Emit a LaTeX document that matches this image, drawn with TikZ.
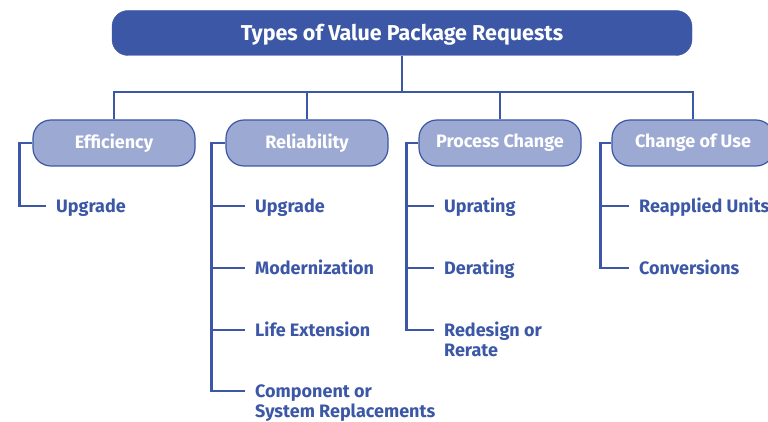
\documentclass[tikz,border=0pt]{standalone}
\usepackage{fontspec}
\setmainfont{Fira Sans}
\definecolor{dkblue}{RGB}{59,87,166}
\definecolor{ltblue}{RGB}{155,169,211}
\begin{document}
\begin{tikzpicture}[x=1pt,y=-1pt,
  head/.style={draw=dkblue, fill=dkblue, rounded corners=16pt, minimum width=580pt, minimum height=45pt, text=white, font=\bfseries\fontsize{21.5}{24}\selectfont},
  cat/.style={draw=dkblue, line width=1.2pt, fill=ltblue, rounded corners=18pt, minimum width=162pt, minimum height=46pt, text=white, font=\bfseries\fontsize{18}{20}\selectfont},
  item/.style={anchor=base west, inner sep=0pt, align=left, text=dkblue, font=\bfseries\fontsize{18}{20}\selectfont},
  link/.style={draw=dkblue, line width=2.7pt}]
  \useasboundingbox (0,0) rectangle (768,422);
  \node[head, text depth=1pt] (top) at (402,33) {Types of Value Package Requests};
  \node[cat] (eff) at (114,143) {Efficiency};
  \node[cat] (rel) at (307,143) {Reliability};
  \node[cat] (proc) at (500,143) {Process Change};
  \node[cat] (use) at (693,143) {Change of Use};
  \coordinate (bus) at (402,92);
  \draw[link] (top) -- (bus);
  \foreach \n in {eff,rel,proc,use}
    \draw[link] (bus) -| (\n);
  % items
  \node[item] (e1) at (56,212) {Upgrade};
  \node[item] (r1) at (255,212) {Upgrade};
  \node[item] (r2) at (255,274) {Modernization};
  \node[item] (r3) at (255,336) {Life Extension};
  \node[item] (r4) at (255,417) {Component or\\System Replacements};
  \node[item] (p1) at (444,212) {Uprating};
  \node[item] (p2) at (444,274) {Derating};
  \node[item] (p3) at (444,356) {Redesign or\\Rerate};
  \node[item] (u1) at (639,212) {Reapplied Units};
  \node[item] (u2) at (639,274) {Conversions};
  \foreach \n/\s in {e1/6,r1/6,r2/6,r3/6,r4/26,p1/6,p2/6,p3/26,u1/6,u2/6}
    \coordinate (\n-t) at ([xshift=-10pt,yshift=\s pt]\n.base west);
  % branches
  \draw[link] (eff.west) -- ++(-13,0) |- (e1-t);
  \draw[link] (rel.west) -- ++(-14,0) coordinate (rb) |- (r4-t);
  \foreach \i in {1,2,3}
    \draw[link] (rb |- r\i-t) -- (r\i-t);
  \draw[link] (proc.west) -- ++(-12,0) coordinate (pb) |- (p3-t);
  \foreach \i in {1,2}
    \draw[link] (pb |- p\i-t) -- (p\i-t);
  \draw[link] (use.west) -- ++(-11,0) coordinate (ub) |- (u2-t);
  \draw[link] (ub |- u1-t) -- (u1-t);
\end{tikzpicture}
\end{document}
